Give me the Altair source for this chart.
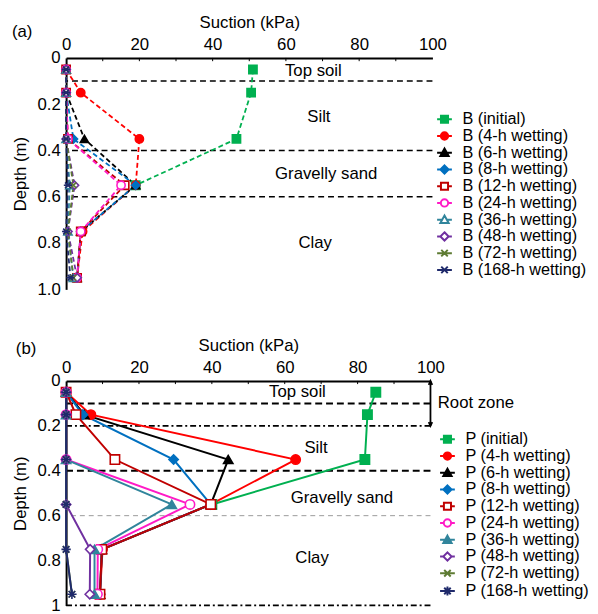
import altair as alt
import pandas as pd

FONT = "Liberation Sans"

# ---------------- data ----------------
depths = [0.05, 0.15, 0.35, 0.55, 0.75, 0.95]

wetting = ["initial", "4-h wetting", "6-h wetting", "8-h wetting", "12-h wetting",
           "24-h wetting", "36-h wetting", "48-h wetting", "72-h wetting", "168-h wetting"]
colors = ["#00B050", "#FF0000", "#000000", "#0070C0", "#C00000",
          "#FF1AC6", "#31859C", "#7030A0", "#5E7B33", "#1F2A6B"]

# panel (a): suction (kPa) at each depth, None = no reading
B_initial = [51, 50.5, 46.5, 19, None, None]
B_4h = [0, 4, 20, 19, 4.5, 3]
B_6h = [0, 0, 5, 19, 4, 3]
B_8h = [0, 0, 2, 19, 4, 3]
B_12h = [0, 0, 0.5, 16, 4, 3]
B_24h = [0, 0, 0.5, 15, 4, 3]
B_36h = [0, 0, 0, 1, 0.5, 2]
B_48h = [0, 0, 0, 2.3, 0.5, 3]
B_72h = [0, 0, 0, 2, 0.5, 2]
B_168h = [0, 0, 0, 0.5, 0, 1.2]

# panel (b)
P_initial = [85, 82.7, 82, 40, None, None]
P_4h = [0, 6.8, 63, 39.7, 10, 9.3]
P_6h = [0, 5, 44.5, 39.7, 9.8, 9.3]
P_8h = [0, 4.6, 29.5, 39.7, 9.8, 9.3]
P_12h = [0, 2.7, 13.4, 39.7, 9.8, 9.3]
P_24h = [0, 0, 0, 34, 8.7, 8.6]
P_36h = [0, 0, 0, 29, 7.8, 7.8]
P_48h = [0, 0, 0, 0, 6.6, 6.5]
P_72h = [0, 0, 0, 0, 0, 1.6]
P_168h = [0, 0, 0, 0, 0, 1.6]

layer_names = ["Top soil", "Silt", "Gravelly sand", "Clay"]
a_label_x = [67.5, 69, 71, 68]
a_label_y = [0.055, 0.255, 0.5, 0.8]
b_label_x = [63.5, 68.6, 75.7, 67.5]
b_label_y = [0.05, 0.3, 0.52, 0.79]

a_boundaries = [0.1, 0.4, 0.6]
b_dashed = [0.1, 0.4]
b_dashdot = [0.2, 1.0]
b_gray = [0.6]
root_zone = [0.0, 0.2]

minor_ticks = [10, 20, 30, 40, 50, 60, 70, 80, 90]
tick_len = [0.0, 0.014]

# ---------------- marker shapes ----------------
X_PATH = "M-0.7,-0.7L0.7,0.7M-0.7,0.7L0.7,-0.7"
ASTA_PATH = "M-1,0L1,0M-0.7,-0.7L0.7,0.7M-0.7,0.7L0.7,-0.7"
ASTB_PATH = "M-1,0L1,0M0,-1L0,1M-0.7,-0.7L0.7,0.7M-0.7,0.7L0.7,-0.7"

# legend symbols: short line with marker (unit = sqrt(size)/2 px)
L_SQ = "M-1.25,0L-0.6,0M0.6,0L1.25,0M-0.6,-0.6L0.6,-0.6L0.6,0.6L-0.6,0.6Z"
L_CI = "M-1.25,0L-0.62,0M0.62,0L1.25,0M0.62,0A0.62,0.62,0,1,1,-0.62,0A0.62,0.62,0,1,1,0.62,0Z"
L_TR = "M-1.25,0L-0.4,0M0.4,0L1.25,0M0,-0.7L0.7,0.55L-0.7,0.55Z"
L_DI = "M-1.25,0L-0.7,0M0.7,0L1.25,0M0,-0.7L0.7,0L0,0.7L-0.7,0Z"
L_X = "M-1.25,0L1.25,0M-0.55,-0.55L0.55,0.55M-0.55,0.55L0.55,-0.55"
L_ASA = "M-1.25,0L1.25,0M-0.55,-0.55L0.55,0.55M-0.55,0.55L0.55,-0.55"
L_ASB = "M-1.25,0L1.25,0M0,-0.75L0,0.75M-0.55,-0.55L0.55,0.55M-0.55,0.55L0.55,-0.55"

plot_shapes_a = ["square", "circle", "triangle-up", "diamond", "square", "circle",
                 "triangle-up", "diamond", X_PATH, ASTA_PATH]
plot_shapes_b = ["square", "circle", "triangle-up", "diamond", "square", "circle",
                 "triangle-up", "diamond", X_PATH, ASTB_PATH]
open_a = [False, False, False, False, True, True, True, True, False, False]
open_b = [False, False, False, False, True, True, False, True, False, False]
leg_shapes_a = [L_SQ, L_CI, L_TR, L_DI, L_SQ, L_CI, L_TR, L_DI, L_X, L_ASA]
leg_shapes_b = [L_SQ, L_CI, L_TR, L_DI, L_SQ, L_CI, L_TR, L_DI, L_X, L_ASB]


def long_df(prefix, series_lists, shapes, opens):
    rows = []
    for i, vals in enumerate(series_lists):
        name = f"{prefix} ({wetting[i]})"
        for d, v in zip(depths, vals):
            if v is None:
                continue
            rows.append({
                "series": name, "idx": i, "depth": d, "suction": v,
                "col": colors[i], "shp": shapes[i],
                "fillc": "white" if opens[i] else colors[i],
            })
    return pd.DataFrame(rows)


def panel(prefix, series_lists, shapes, opens, leg_shapes, width, height,
          label_x, label_y, tag, tag_x, tag_y, dash, lw, msize, legend_xy, extra_layers):
    df = long_df(prefix, series_lists, shapes, opens)
    names = [f"{prefix} ({w})" for w in wetting]
    fills = ["white" if o else c for o, c in zip(opens, colors)]

    xs = alt.Scale(domain=[0, 100], nice=False)
    ys = alt.Scale(domain=[0, 1], reverse=True, nice=False)
    xenc = alt.X("suction:Q", scale=xs, axis=alt.Axis(
        orient="top", values=[0, 20, 40, 60, 80, 100], title="Suction (kPa)",
        tickSize=0, labelPadding=5, titlePadding=4, domainWidth=2, labelFlush=False,
        labelFontSize=17, titleFontSize=17, labelFont=FONT, titleFont=FONT,
        titleFontWeight="normal", labelColor="black", titleColor="black", domainColor="black"))
    if prefix == "B":
        lexpr = "datum.value == 0 ? '0' : format(datum.value, '.1f')"
    else:
        lexpr = "datum.value == 0 ? '0' : (datum.value == 1 ? '1' : format(datum.value, '.1f'))"
    yaxis = alt.Axis(values=[0, 0.2, 0.4, 0.6, 0.8, 1.0], title="Depth (m)",
                     labelExpr=lexpr, tickSize=0, labelPadding=6, titlePadding=8,
                     domainWidth=2, labelFontSize=17, titleFontSize=17, labelFlush=False,
                     labelFont=FONT, titleFont=FONT, titleFontWeight="normal",
                     labelColor="black", titleColor="black", domainColor="black")
    yenc = alt.Y("depth:Q", scale=ys, axis=yaxis)

    base = alt.Chart(df)
    line_kw = dict(strokeWidth=lw)
    if dash:
        line_kw["strokeDash"] = dash
    lines = base.mark_line(**line_kw).encode(
        x=xenc, y=yenc, detail="series:N",
        color=alt.Color("col:N", scale=None), order="depth:Q")
    pts = base.mark_point(size=msize, opacity=1, strokeWidth=1.6, filled=False).encode(
        x=xenc, y=yenc,
        color=alt.Color("col:N", scale=None),
        fill=alt.Fill("fillc:N", scale=None),
        shape=alt.Shape("shp:N", scale=None))

    leg = alt.Legend(title=None, orient="none", legendX=legend_xy[0], legendY=legend_xy[1],
                     symbolSize=144, symbolStrokeWidth=2, symbolOpacity=1,
                     labelFontSize=16.5, labelFont=FONT, labelColor="black",
                     rowPadding=0, labelOffset=10)
    legdf = pd.DataFrame({"series": names})
    legend_layer = alt.Chart(legdf).mark_point(opacity=0, filled=False).encode(
        color=alt.Color("series:N", scale=alt.Scale(domain=names, range=colors), legend=leg),
        fill=alt.Fill("series:N", scale=alt.Scale(domain=names, range=fills), legend=leg),
        shape=alt.Shape("series:N", scale=alt.Scale(domain=names, range=leg_shapes), legend=leg))

    lab_df = pd.DataFrame({"x": label_x + [tag_x], "y": label_y + [tag_y],
                           "t": layer_names + [tag]})
    labels = alt.Chart(lab_df).mark_text(fontSize=17, font=FONT, color="black").encode(
        x=alt.X("x:Q", scale=xs), y=alt.Y("y:Q", scale=ys), text="t:N")

    tdf = pd.DataFrame({"x": minor_ticks, "y0": [tick_len[0]] * len(minor_ticks),
                        "y1": [tick_len[1]] * len(minor_ticks)})
    ticks = alt.Chart(tdf).mark_rule(color="black", strokeWidth=1).encode(
        x=alt.X("x:Q", scale=xs), y=alt.Y("y0:Q", scale=ys), y2="y1:Q")

    layers = extra_layers(xs, ys) + [ticks, lines, pts, labels, legend_layer]
    return alt.layer(*layers).properties(width=width, height=height)


def extras_a(xs, ys):
    r = alt.Chart(pd.DataFrame({"d": a_boundaries})).mark_rule(
        color="black", strokeWidth=1.6, strokeDash=[6, 4]).encode(
        y=alt.Y("d:Q", scale=ys))
    return [r]


def extras_b(xs, ys):
    r1 = alt.Chart(pd.DataFrame({"d": b_dashed})).mark_rule(
        color="black", strokeWidth=2, strokeDash=[7, 4]).encode(y=alt.Y("d:Q", scale=ys))
    r2 = alt.Chart(pd.DataFrame({"d": b_dashdot})).mark_rule(
        color="black", strokeWidth=1.8, strokeDash=[6, 3, 2, 3]).encode(y=alt.Y("d:Q", scale=ys))
    r3 = alt.Chart(pd.DataFrame({"d": b_gray})).mark_rule(
        color="#999999", strokeWidth=1, strokeDash=[5, 4]).encode(y=alt.Y("d:Q", scale=ys))
    adf = pd.DataFrame({"x": [100], "y0": [root_zone[0]], "y1": [root_zone[1]]})
    arrow = alt.Chart(adf).mark_rule(color="black", strokeWidth=1.8).encode(
        x=alt.X("x:Q", scale=xs), y=alt.Y("y0:Q", scale=ys), y2="y1:Q")
    hdf = pd.DataFrame({"x": [100, 100], "y": root_zone,
                        "s": ["M-0.6,1.3L0,0L0.6,1.3", "M-0.6,-1.3L0,0L0.6,-1.3"]})
    heads = alt.Chart(hdf).mark_point(size=36, filled=False, opacity=1, color="black",
                                      strokeWidth=1.8).encode(
        x=alt.X("x:Q", scale=xs), y=alt.Y("y:Q", scale=ys),
        shape=alt.Shape("s:N", scale=None))
    rz = alt.Chart(pd.DataFrame({"x": [102], "y": [0.1], "t": ["Root zone"]})).mark_text(
        fontSize=17, font=FONT, color="black", align="left").encode(
        x=alt.X("x:Q", scale=xs), y=alt.Y("y:Q", scale=ys), text="t:N")
    return [r1, r2, r3, arrow, heads, rz]


pa = panel("B", [B_initial, B_4h, B_6h, B_8h, B_12h, B_24h, B_36h, B_48h, B_72h, B_168h],
           plot_shapes_a, open_a, leg_shapes_a, 372, 235,
           a_label_x, a_label_y, "(a)", -12, -0.11, [5, 3], 1.8, 70, (376, 54), extras_a)
pb = panel("P", [P_initial, P_4h, P_6h, P_8h, P_12h, P_24h, P_36h, P_48h, P_72h, P_168h],
           plot_shapes_b, open_b, leg_shapes_b, 370, 228,
           b_label_x, b_label_y, "(b)", -11, -0.14, None, 2, 90, (379, 51), extras_b)

chart = alt.vconcat(pa, pb, spacing=40).resolve_scale(
    color="independent", fill="independent", shape="independent"
).properties(
    padding={"left": 3, "top": 1, "right": 0, "bottom": 0}
).configure_view(stroke=None).configure_axis(
    grid=False, domainColor="black", labelColor="black", titleColor="black",
    labelFont=FONT, titleFont=FONT, labelFontSize=17, titleFontSize=17,
    titleFontWeight="normal", tickColor="black"
).configure_legend(labelFont=FONT)

chart.save("out.html", embed_options={"renderer": "svg", "actions": False})
